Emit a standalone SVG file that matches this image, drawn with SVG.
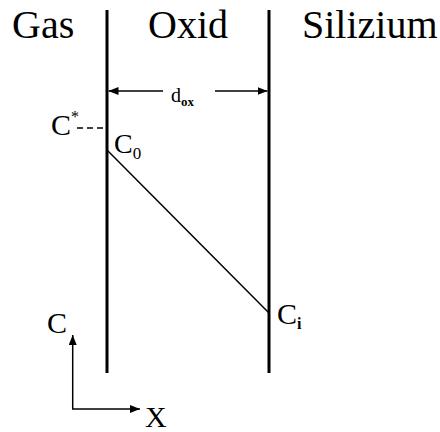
<svg xmlns="http://www.w3.org/2000/svg" width="440" height="432" viewBox="0 0 440 432">
<defs>
<marker id="ah" viewBox="0 0 10 8" refX="10" refY="4" markerWidth="10" markerHeight="8" markerUnits="userSpaceOnUse" orient="auto">
<path d="M0,0 L10,4 L0,8 Z" fill="#000"/>
</marker>
</defs>
<g id="walls" stroke="#000" stroke-width="3">
<line x1="107" y1="10" x2="107" y2="373"/>
<line x1="269" y1="10" x2="269" y2="373"/>
</g>
<g id="connectors" stroke="#000" stroke-width="1.5" fill="none">
<line x1="163" y1="91" x2="108.5" y2="91" marker-end="url(#ah)"/>
<line x1="215" y1="91" x2="267.5" y2="91" marker-end="url(#ah)"/>
<line x1="107" y1="150" x2="269" y2="313"/>
<line x1="77" y1="128" x2="107" y2="128" stroke-dasharray="6,4"/>
<line x1="72.7" y1="409" x2="72.7" y2="335" marker-end="url(#ah)"/>
<line x1="72" y1="409" x2="140" y2="409" marker-end="url(#ah)"/>
</g>
<g id="dox"><text x="171" y="102" font-size="20" font-family="Liberation Serif">d<tspan font-weight="bold" font-size="13" dy="4">ox</tspan></text></g>
<g id="cstar"><text x="51" y="135" font-size="30" font-family="Liberation Serif">C<tspan dy="-13" font-size="16">*</tspan></text></g>
<g id="c0"><text x="114" y="153" font-size="28" font-family="Liberation Serif">C<tspan dy="6" font-size="17">0</tspan></text></g>
<g id="ci"><text x="277" y="324" font-size="30" font-family="Liberation Serif">C<tspan dy="5" font-size="16" font-weight="bold">i</tspan></text></g>
<g id="axis-c"><text x="47" y="333" font-size="30" font-family="Liberation Serif">C</text></g>
<g id="axis-x"><text x="145" y="427" font-size="30" font-family="Liberation Serif">X</text></g>
<g id="gas"><text x="12" y="38" font-size="40" font-family="Times New Roman, Liberation Serif, serif">Gas</text></g>
<g id="oxid"><text x="148" y="38" font-size="40" font-family="Times New Roman, Liberation Serif, serif">Oxid</text></g>
<g id="silizium"><text x="302" y="38" font-size="40" font-family="Times New Roman, Liberation Serif, serif">Silizium</text></g>
</svg>
